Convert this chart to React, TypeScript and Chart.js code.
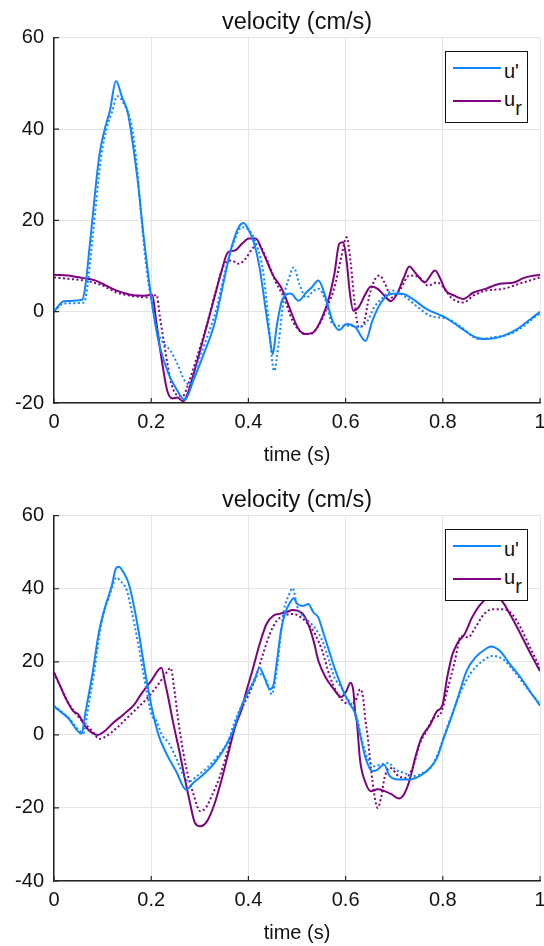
import React, { useEffect, useRef } from "react";
import { Chart, registerables } from "chart.js";

Chart.register(...registerables);

const FONT = "'Liberation Sans', Arial, Helvetica, sans-serif";
const BLUE = "#0d86ff";
const PURPLE = "#7f0080";

const chartTitle = "velocity (cm/s)";
const xTitle = "time (s)";
const legendLabels = ["u'", "u", "r"];

// ---------- Top panel ----------
const topUpT = [0, 0.02, 0.058, 0.065, 0.075, 0.093, 0.104, 0.115, 0.1275, 0.14, 0.152, 0.161, 0.172, 0.185, 0.2, 0.215, 0.236, 0.25, 0.269, 0.287, 0.308, 0.33, 0.351, 0.365, 0.38, 0.39, 0.401, 0.412, 0.423, 0.433, 0.443, 0.45, 0.458, 0.469, 0.487, 0.503, 0.519, 0.53, 0.544, 0.559, 0.573, 0.587, 0.602, 0.62, 0.641, 0.655, 0.673, 0.695, 0.716, 0.738, 0.766, 0.802, 0.831, 0.867, 0.888, 0.924, 0.953, 0.981, 1];
const topUpV = [0, 2.3, 2.6, 6, 16, 34, 39.8, 44, 50.5, 47, 43.5, 37.6, 28.9, 16, 3.1, -6.4, -13.7, -16.6, -19.3, -15, -9.3, -2.7, 7.5, 14, 18.5, 19.4, 17.8, 14.9, 9.7, 2.4, -4.9, -9.3, -3.4, 2.4, 4, 2.4, 4.2, 5.3, 6.8, 3.1, -2, -4, -2.7, -3.4, -6.4, -2, 2, 3.9, 3.9, 2.8, 0.6, -1.1, -3.1, -5.6, -6, -5.3, -3.8, -1.6, 0];

const topUpDotT = [0, 0.02, 0.062, 0.068, 0.079, 0.097, 0.108, 0.12, 0.13, 0.143, 0.161, 0.172, 0.179, 0.19, 0.204, 0.215, 0.228, 0.24, 0.254, 0.269, 0.279, 0.297, 0.315, 0.333, 0.351, 0.369, 0.387, 0.398, 0.412, 0.43, 0.44, 0.448, 0.453, 0.462, 0.473, 0.484, 0.493, 0.505, 0.519, 0.534, 0.544, 0.559, 0.573, 0.591, 0.609, 0.63, 0.645, 0.659, 0.677, 0.698, 0.72, 0.745, 0.774, 0.81, 0.838, 0.874, 0.903, 0.938, 0.967, 0.989, 1];
const topUpDotV = [0, 1.8, 2, 5, 15.7, 34, 40, 44, 47.2, 45.7, 40, 30.3, 21.5, 9.7, 0.2, -4.9, -7.2, -8.6, -11.5, -15.1, -16, -10.8, -5.6, 0.2, 8.3, 14.9, 18.5, 18.1, 16, 9, -0.5, -10, -13, -7.1, 3.1, 7.5, 9.7, 6, 3.1, 4.6, 5, 2.4, -2.7, -3.1, -3.1, -3.3, -2, 1, 3.1, 4.6, 3.5, 1.3, -0.9, -1.6, -3.4, -6, -5.6, -4.9, -3.1, -1.2, -0.5];

const topUrT = [0, 0.029, 0.057, 0.086, 0.107, 0.129, 0.158, 0.186, 0.202, 0.211, 0.222, 0.233, 0.244, 0.254, 0.265, 0.272, 0.287, 0.308, 0.33, 0.344, 0.358, 0.372, 0.387, 0.401, 0.415, 0.43, 0.451, 0.469, 0.487, 0.501, 0.516, 0.534, 0.552, 0.566, 0.577, 0.587, 0.595, 0.602, 0.609, 0.616, 0.627, 0.641, 0.652, 0.666, 0.68, 0.693, 0.706, 0.72, 0.731, 0.745, 0.763, 0.77, 0.784, 0.795, 0.806, 0.824, 0.842, 0.863, 0.888, 0.917, 0.946, 0.967, 1];
const topUrV = [8.1, 7.9, 7.4, 6.8, 5.7, 4.6, 3.7, 3.5, 3.7, -2.7, -10.8, -17.3, -19, -18.8, -19.6, -18.8, -13.7, -5.6, 3.1, 8.6, 13, 13.4, 14.9, 16, 16, 13, 7.9, 5, 0.2, -3.4, -4.9, -4.5, -1.2, 3.1, 8.3, 14.9, 15.2, 11.2, 3.9, 0.2, 1, 3.9, 5.5, 5, 3.5, 2.3, 3.9, 7.5, 9.9, 8.3, 6.4, 7.2, 9, 7.2, 4.6, 3.5, 2.8, 4.2, 5, 6.1, 6.4, 7.4, 8.1];

const topUrDotT = [0, 0.029, 0.064, 0.1, 0.129, 0.158, 0.2, 0.211, 0.218, 0.229, 0.24, 0.251, 0.265, 0.276, 0.294, 0.315, 0.333, 0.351, 0.365, 0.38, 0.394, 0.408, 0.419, 0.437, 0.455, 0.473, 0.491, 0.509, 0.527, 0.544, 0.562, 0.577, 0.591, 0.602, 0.61, 0.618, 0.627, 0.637, 0.648, 0.659, 0.67, 0.68, 0.695, 0.713, 0.731, 0.752, 0.77, 0.788, 0.802, 0.817, 0.842, 0.863, 0.888, 0.924, 0.96, 1];
const topUrDotV = [7.5, 7.2, 6.8, 5.7, 4.2, 3.5, 3.1, 3.7, -1.2, -8.6, -15.1, -18.1, -18.5, -15.9, -10, -2.7, 4.6, 10.5, 11.2, 10.5, 11.6, 13.8, 14.9, 11.6, 6.8, 3.1, -2, -4.5, -4.9, -3.1, 1, 5.3, 11.9, 16.3, 11.2, 2.4, -3.4, -2.7, 3.1, 6.8, 7.9, 6.4, 3.1, 5, 7.9, 7.5, 5.7, 6.4, 5.3, 3.1, 2, 3.5, 4.6, 5, 6.2, 7.5];

// ---------- Bottom panel ----------
const botUpT = [0, 0.029, 0.057, 0.064, 0.079, 0.093, 0.107, 0.118, 0.128, 0.133, 0.143, 0.154, 0.165, 0.175, 0.186, 0.197, 0.204, 0.215, 0.229, 0.251, 0.272, 0.287, 0.308, 0.33, 0.347, 0.365, 0.38, 0.387, 0.401, 0.412, 0.423, 0.433, 0.444, 0.451, 0.458, 0.467, 0.476, 0.484, 0.493, 0.501, 0.512, 0.523, 0.534, 0.544, 0.555, 0.566, 0.577, 0.587, 0.598, 0.609, 0.62, 0.63, 0.641, 0.655, 0.666, 0.679, 0.691, 0.709, 0.731, 0.752, 0.774, 0.788, 0.802, 0.817, 0.831, 0.849, 0.867, 0.888, 0.899, 0.917, 0.938, 0.96, 0.981, 1];
const botUpV = [7.8, 4.6, 0.3, 5.6, 16.6, 28.5, 35.8, 40.4, 45.7, 46, 44.5, 41.3, 34.9, 27.6, 18.4, 10.2, 5.7, 0, -4.5, -9.9, -15, -13.1, -10.8, -7.7, -4.5, 0, 5.6, 8.3, 12.1, 14.8, 18.4, 15.7, 12.5, 13.4, 19.4, 28.5, 33.5, 35.8, 37.4, 35.8, 35.3, 35.8, 33.5, 32.1, 27.6, 23, 18.4, 14.8, 11.1, 8.4, 5.7, 0, -6.3, -9.9, -9.5, -8.1, -11.3, -12.2, -12.2, -11.3, -9, -6.3, -0.8, 4.6, 10.2, 17.5, 21.2, 23.5, 24.2, 23, 19.4, 15.7, 11.6, 8];

const botUpDotT = [0, 0.029, 0.061, 0.068, 0.082, 0.097, 0.115, 0.129, 0.136, 0.15, 0.161, 0.172, 0.183, 0.193, 0.2, 0.211, 0.222, 0.236, 0.251, 0.269, 0.279, 0.294, 0.315, 0.337, 0.358, 0.372, 0.387, 0.401, 0.415, 0.426, 0.437, 0.448, 0.458, 0.466, 0.473, 0.484, 0.491, 0.501, 0.516, 0.53, 0.541, 0.552, 0.566, 0.577, 0.591, 0.602, 0.612, 0.623, 0.634, 0.645, 0.659, 0.673, 0.688, 0.702, 0.72, 0.738, 0.759, 0.777, 0.792, 0.806, 0.82, 0.838, 0.856, 0.878, 0.903, 0.924, 0.946, 0.967, 0.989, 1];
const botUpDotV = [8, 4.8, 0.5, 5.6, 16.6, 30.3, 38.5, 43.1, 42.2, 39.5, 33.1, 25.8, 17.5, 10.2, 5.7, 3.7, 0, -2.2, -6.3, -11.8, -12.7, -11.3, -9, -5.8, -1.7, 3.7, 8.3, 12.1, 15.7, 16.6, 14.8, 11.1, 17.5, 26.7, 34, 38.5, 40.2, 34.9, 32.1, 30.3, 28.5, 25.8, 20.3, 15.7, 13, 10.2, 8.4, 4.8, -1.7, -6.3, -8.6, -8.1, -7.7, -9.5, -10.4, -11.3, -10.4, -8.6, -4.5, 1, 6, 12.1, 16.6, 19.8, 21.6, 20.7, 17.5, 13.9, 10.2, 8.4];

const botUrT = [0, 0.011, 0.025, 0.039, 0.05, 0.064, 0.079, 0.09, 0.104, 0.122, 0.143, 0.165, 0.179, 0.2, 0.221, 0.229, 0.236, 0.244, 0.258, 0.269, 0.279, 0.29, 0.301, 0.315, 0.33, 0.344, 0.358, 0.372, 0.387, 0.394, 0.408, 0.423, 0.437, 0.451, 0.466, 0.48, 0.491, 0.501, 0.512, 0.523, 0.534, 0.544, 0.559, 0.573, 0.591, 0.602, 0.61, 0.616, 0.62, 0.623, 0.63, 0.641, 0.652, 0.666, 0.68, 0.695, 0.709, 0.72, 0.731, 0.745, 0.756, 0.774, 0.788, 0.799, 0.809, 0.82, 0.831, 0.845, 0.86, 0.878, 0.896, 0.917, 0.938, 0.96, 0.981, 1];
const botUrV = [17.1, 13.9, 9.8, 6.6, 5.6, 2.4, 0.5, 0, 1, 3.3, 5.6, 8.3, 11.1, 14.8, 18.4, 14, 9.6, 4.1, -4.5, -11.8, -18.1, -24.1, -25, -23.6, -19, -12.7, -5.4, 1.9, 7.4, 11.1, 17.5, 24.8, 30.3, 32.6, 33.2, 33.7, 34.2, 34, 33.1, 30.3, 25.8, 20.3, 15.7, 13, 10.4, 12.1, 14.3, 12, 5.7, 3.7, -7.2, -13.1, -15.4, -14.9, -15.4, -16.3, -17.4, -16.3, -12.7, -5.4, -0.8, 2.8, 6.5, 8, 15.7, 22.1, 25.3, 27.6, 32.1, 35.8, 37.6, 37.2, 33.1, 27.6, 22.1, 17.5];

const botUrDotT = [0, 0.011, 0.025, 0.05, 0.079, 0.093, 0.107, 0.129, 0.15, 0.172, 0.193, 0.215, 0.229, 0.24, 0.247, 0.254, 0.261, 0.272, 0.287, 0.301, 0.312, 0.326, 0.34, 0.355, 0.369, 0.387, 0.401, 0.415, 0.43, 0.444, 0.458, 0.473, 0.491, 0.509, 0.523, 0.537, 0.552, 0.566, 0.584, 0.598, 0.609, 0.62, 0.63, 0.636, 0.641, 0.645, 0.652, 0.659, 0.666, 0.673, 0.68, 0.691, 0.709, 0.723, 0.738, 0.752, 0.766, 0.781, 0.795, 0.809, 0.824, 0.838, 0.852, 0.867, 0.885, 0.903, 0.924, 0.942, 0.96, 0.981, 1];
const botUrDotV = [17, 13.9, 9.8, 5, 1, -1.1, -0.4, 1.9, 4.6, 7.4, 10.2, 13.9, 16.6, 18.3, 13, 5.7, -0.8, -9, -16.3, -20.9, -20, -16.3, -11.8, -5.4, 1, 7.4, 11.1, 15.7, 22.1, 27.6, 31.2, 32.6, 33.1, 32.1, 30.3, 27.6, 23, 16.6, 11.1, 8.9, 8.4, 9.3, 12.5, 10.2, 3.7, 0, -9, -16.3, -20, -17.2, -11.8, -9, -11.3, -11.8, -9, -2.6, 1, 4.6, 5.7, 12.1, 19.8, 27.1, 26.7, 29.4, 33.1, 34.4, 34.4, 33.1, 29.4, 23.5, 18.4];

const topYMin = -20, topYMax = 60;
const botYMin = -40, botYMax = 60;
const yStep = 20;
const xStep = 0.2;

type Series = { t: number[]; v: number[]; color: string; dotted: boolean };

const topSeries: Series[] = [
  { t: topUpT, v: topUpV, color: BLUE, dotted: false },
  { t: topUpDotT, v: topUpDotV, color: BLUE, dotted: true },
  { t: topUrT, v: topUrV, color: PURPLE, dotted: false },
  { t: topUrDotT, v: topUrDotV, color: PURPLE, dotted: true },
];
const botSeries: Series[] = [
  { t: botUpT, v: botUpV, color: BLUE, dotted: false },
  { t: botUpDotT, v: botUpDotV, color: BLUE, dotted: true },
  { t: botUrT, v: botUrV, color: PURPLE, dotted: false },
  { t: botUrDotT, v: botUrDotV, color: PURPLE, dotted: true },
];

const AXIS = "#262626";
const TXT = "#111111";

const innerTicks = {
  id: "innerTicks",
  afterDraw(chart: any) {
    const { ctx, chartArea: a, scales } = chart;
    const x = scales.x, y = scales.y;
    ctx.save();
    ctx.strokeStyle = AXIS;
    ctx.lineWidth = 1.2;
    ctx.beginPath();
    x.ticks.forEach((tk: any) => {
      const px = x.getPixelForValue(tk.value);
      ctx.moveTo(px, a.bottom);
      ctx.lineTo(px, a.bottom - 5);
    });
    y.ticks.forEach((tk: any) => {
      const py = y.getPixelForValue(tk.value);
      ctx.moveTo(a.left, py);
      ctx.lineTo(a.left + 5, py);
    });
    ctx.stroke();
    ctx.restore();
  },
};

const fmtTick = (v: any) => String(Math.round(Number(v) * 10) / 10);

function Panel({ series, yMin, yMax }: { series: Series[]; yMin: number; yMax: number }) {
  const ref = useRef<HTMLCanvasElement | null>(null);
  useEffect(() => {
    if (!ref.current) return;
    const chart = new Chart(ref.current, {
      type: "line",
      data: {
        datasets: series.map((s, i) => ({
          label: `s${i}`,
          data: s.t.map((t, k) => ({ x: t, y: s.v[k] })),
          borderColor: s.color,
          backgroundColor: s.color,
          borderWidth: 2,
          borderDash: s.dotted ? [2, 2.5] : [],
          pointRadius: 0,
          fill: false,
          cubicInterpolationMode: "monotone" as const,
        })),
      },
      options: {
        animation: false,
        responsive: false,
        devicePixelRatio: 1,
        layout: { padding: { left: 0, right: 4, top: 0, bottom: 0 } },
        plugins: {
          legend: { display: false },
          tooltip: { enabled: false },
          title: {
            display: true,
            fullSize: false,
            text: chartTitle,
            color: TXT,
            font: { family: FONT, size: 23.5, weight: "normal" },
            padding: { top: 8, bottom: 1.5 },
          },
        },
        scales: {
          x: {
            type: "linear",
            min: 0,
            max: 1,
            ticks: { stepSize: xStep, color: TXT, font: { family: FONT, size: 20 }, padding: 7, maxRotation: 0, callback: fmtTick },
            grid: { color: "#e4e4e4", lineWidth: 1, drawTicks: false },
            border: { display: true, color: AXIS, width: 1.5 },
            title: {
              display: true,
              text: xTitle,
              color: TXT,
              font: { family: FONT, size: 20 },
              padding: { top: 0, bottom: 11 },
            },
            afterFit: (s: any) => {
              s.height = 75;
              s.paddingLeft = 0;
              s.paddingRight = 0;
            },
          },
          y: {
            type: "linear",
            min: yMin,
            max: yMax,
            ticks: { stepSize: yStep, color: TXT, font: { family: FONT, size: 20 }, padding: 10, callback: fmtTick },
            grid: { color: "#e4e4e4", lineWidth: 1, drawTicks: false },
            border: { display: true, color: AXIS, width: 1.5 },
            afterFit: (s: any) => {
              s.width = 54;
              s.paddingTop = 0;
              s.paddingBottom = 0;
            },
          },
        },
      },
      plugins: [innerTicks],
    } as any);
    return () => chart.destroy();
  }, [series, yMin, yMax]);

  return (
    <div style={{ position: "relative", width: 544, height: 478 }}>
      <canvas ref={ref} width={544} height={478} style={{ display: "block", width: 544, height: 478 }} />
      <div
        style={{
          position: "absolute",
          left: 445,
          top: 51,
          width: 83,
          height: 72,
          boxSizing: "border-box",
          border: `1.5px solid ${TXT}`,
          background: "#fff",
          fontFamily: FONT,
          fontSize: 20,
          color: TXT,
        }}
      >
        <div style={{ position: "absolute", left: 7, top: 15, width: 48, height: 2, background: BLUE }} />
        <span style={{ position: "absolute", left: 58, top: 9, lineHeight: "20px" }}>{legendLabels[0]}</span>
        <div style={{ position: "absolute", left: 7, top: 48, width: 48, height: 2, background: PURPLE }} />
        <span style={{ position: "absolute", left: 58, top: 37, lineHeight: "20px" }}>
          {legendLabels[1]}
          <sub style={{ fontSize: 20, verticalAlign: "-9px", lineHeight: 0 }}>{legendLabels[2]}</sub>
        </span>
      </div>
    </div>
  );
}

export default function App() {
  return (
    <div
      style={{
        position: "fixed",
        left: 0,
        top: 0,
        width: 544,
        height: 946,
        overflow: "hidden",
        background: "#fff",
      }}
    >
      <div style={{ position: "absolute", left: 0, top: 0 }}>
        <Panel series={topSeries} yMin={topYMin} yMax={topYMax} />
      </div>
      <div style={{ position: "absolute", left: 0, top: 478 }}>
        <Panel series={botSeries} yMin={botYMin} yMax={botYMax} />
      </div>
    </div>
  );
}
